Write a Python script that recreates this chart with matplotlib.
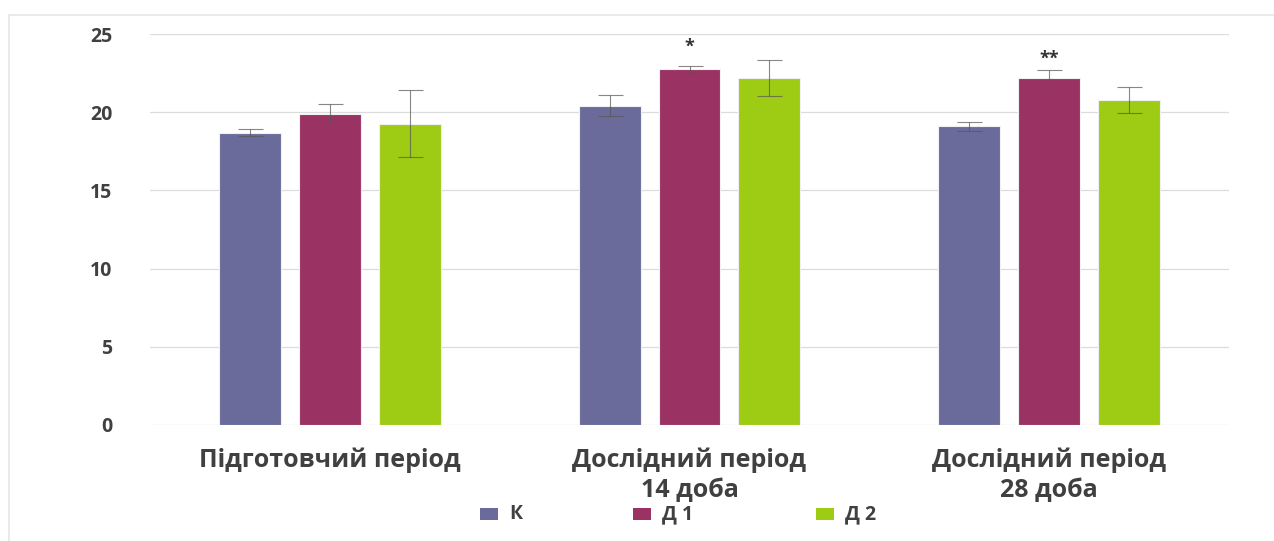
import matplotlib
matplotlib.use("Agg")
import matplotlib.pyplot as plt
import numpy as np
from matplotlib.patches import Rectangle
from matplotlib.lines import Line2D

plt.rcParams['font.family'] = ['Open Sans', 'DejaVu Sans']

categories = ["Підготовчий період", "Дослідний період\n14 доба", "Дослідний період\n28 доба"]
series_names = ["К", "Д 1", "Д 2"]
values_k = [18.68, 20.42, 19.10]
values_d1 = [19.90, 22.74, 22.21]
values_d2 = [19.27, 22.19, 20.76]
err_k = [0.22, 0.69, 0.29]
err_d1 = [0.62, 0.22, 0.49]
err_d2 = [2.15, 1.15, 0.83]
marks_d1 = ["", "*", "**"]
yticks = [0, 5, 10, 15, 20, 25]

colors = ["#6b6b9b", "#9a3363", "#9ecb14"]
text_color = "#404040"

W, H = 1274, 541
fig = plt.figure(figsize=(W / 100, H / 100), dpi=100)
ax = fig.add_axes([150 / W, 1 - 425 / H, (1229 - 150) / W, (425 - 34) / H])

x = np.arange(len(categories))
bar_w = 0.172
step = 0.222
all_vals = [values_k, values_d1, values_d2]
all_errs = [err_k, err_d1, err_d2]
for i, (vals, errs, c) in enumerate(zip(all_vals, all_errs, colors)):
    pos = x + (i - 1) * step
    ax.bar(pos, vals, width=bar_w, color=c, edgecolor="#f0f0f0", linewidth=0.8, zorder=3)
    ax.errorbar(pos, vals, yerr=errs, fmt="none", ecolor="#555555", elinewidth=0.8,
                capsize=9, capthick=0.8, alpha=0.7, zorder=4)

# significance marks above the Д 1 bars
offsets_pt = [0, 7.5, 1.5]
for j, m in enumerate(marks_d1):
    if m:
        ax.annotate(m, (x[j], values_d1[j] + err_d1[j]), xytext=(0, offsets_pt[j]),
                    textcoords="offset points", ha="center", va="bottom",
                    fontsize=13, fontweight="bold", color="#333333")

ax.set_xlim(-0.5, len(categories) - 0.5)
ax.set_ylim(0, 25)
ax.set_yticks(yticks)
ax.set_yticklabels([str(t) for t in yticks], fontsize=14, fontweight="bold", color=text_color)
ax.tick_params(axis="y", length=0, pad=27)
ax.set_xticks(x)
ax.set_xticklabels(categories, fontsize=18, fontweight="bold", color=text_color, linespacing=1.3)
ax.tick_params(axis="x", length=0, pad=16)
for lab in ax.get_xticklabels():
    lab.set_va("top")
for s in ax.spines.values():
    s.set_visible(False)
ax.grid(axis="y", color="#dcdcdc", linewidth=0.9, zorder=0)
ax.set_axisbelow(True)

# outer frame lines
fig.add_artist(Line2D([9 / W, 1], [1 - 15 / H, 1 - 15 / H], color="#e6e6e6", linewidth=1.2))
fig.add_artist(Line2D([9 / W, 9 / W], [0, 1 - 15 / H], color="#e6e6e6", linewidth=1.2))

# legend
leg_x = [480, 633, 816]
leg_y = 514
for name, c, lx in zip(series_names, colors, leg_x):
    fig.add_artist(Rectangle((lx / W, 1 - (leg_y + 6) / H), 18 / W, 12 / H,
                             facecolor=c, edgecolor="none", transform=fig.transFigure))
    fig.text((lx + 29) / W, 1 - leg_y / H, name, fontsize=14, fontweight="bold",
             color=text_color, ha="left", va="center")

fig.savefig("out.png", dpi=100, facecolor="white")
